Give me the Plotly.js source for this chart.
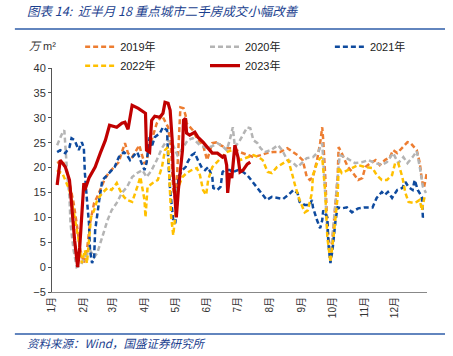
<!DOCTYPE html>
<html><head><meta charset="utf-8">
<script src="https://cdn.plot.ly/plotly-3.0.1.min.js"></script>
<style>html,body{margin:0;padding:0;background:#fff}#chart{width:453px;height:356px}</style>
</head><body><div id="chart"></div>
<script>
// Day-of-year and values (万m²)
const days2019 = [5,10,15,18,21,24,27,31,34,37,41,44,47,51,55,60,65,68,71,74,78,81,85,87,90,92,94,102,107,113,116,118,120,122,125,128,130,131,137,141,147,151,156,161,164,170,176,183,190,196,203,209,215,222,229,232,239,244,248,251,254,258,261,263,264,266,268,271,274,278,279,282,288,293,298,302,305,310,315,319,324,329,332,336,342,346,349,352,355,358,360,362,365];
const vals2019 = [20.9,21.5,18.9,16.1,12.9,8.8,4.0,0.8,3.4,8.8,12.9,14.1,15.5,17.5,18.9,19.9,21.1,23.1,24.9,22.9,22.1,23.1,24.5,22.9,20.9,21.1,23.5,28.9,30.5,28.1,23.5,15.5,13.5,19.5,32.1,31.9,30.5,28.9,27.5,25.9,24.5,21.5,24.9,25.1,24.5,23.9,23.9,23.1,22.5,22.1,22.5,22.9,23.1,23.1,23.9,23.5,22.5,21.5,18.1,17.5,18.1,21.5,24.9,28.1,25.5,18.1,8.0,2.0,8.0,18.1,24.1,22.9,20.1,18.9,17.5,17.9,20.1,20.9,21.5,20.5,21.5,22.1,23.5,22.9,24.1,25.1,24.9,24.1,23.5,20.9,17.5,15.9,19.1];

const days2020 = [5,7,10,12,13,15,17,18,21,24,28,32,37,41,44,47,51,54,58,63,68,73,78,83,88,92,95,97,102,107,112,117,122,128,132,137,144,151,156,161,166,170,173,176,178,183,190,193,196,200,203,207,213,220,224,229,234,239,243,248,254,259,263,266,268,271,274,278,280,285,290,295,302,308,315,321,326,332,337,342,346,351,355,358,361,364];
const vals2020 = [24.5,25.5,26.9,27.5,23.5,18.1,14.1,8.8,3.4,0.0,0.4,2.0,3.4,2.0,2.8,4.8,7.4,9.4,11.4,12.9,14.9,16.1,18.1,18.9,19.5,18.1,18.9,19.5,21.5,23.9,25.5,24.9,22.5,24.1,25.5,25.9,24.5,23.9,24.3,24.9,24.3,23.5,25.5,28.1,24.1,25.5,28.1,27.9,25.5,24.9,23.9,23.1,23.5,24.5,23.5,21.5,21.1,20.1,20.9,21.9,22.1,23.1,24.9,15.5,7.4,1.4,8.8,18.9,22.5,22.1,21.5,20.9,21.1,21.5,20.9,20.5,21.1,22.9,20.9,22.1,20.9,22.1,23.3,20.1,16.1,14.9];

const days2021 = [5,8,13,17,19,22,26,29,31,32,34,36,37,39,41,42,46,49,52,56,61,65,70,73,76,80,83,86,90,92,95,97,100,105,108,112,113,115,118,120,122,123,127,130,132,136,139,142,146,149,152,156,157,161,164,166,168,173,176,181,186,190,196,203,209,214,219,225,230,235,239,241,246,251,253,254,258,261,263,264,268,269,271,273,276,278,282,287,292,298,305,312,316,321,324,327,331,336,341,344,347,351,353,356,360,361,362];
const vals2021 = [23.1,23.5,22.9,24.1,25.9,25.5,23.5,25.1,23.9,18.9,13.5,8.8,3.4,0.8,2.0,7.4,13.5,17.5,18.1,18.9,20.1,22.1,23.1,22.5,21.5,22.5,23.1,21.5,19.5,20.9,26.1,24.1,26.1,26.9,28.1,27.5,22.1,15.5,9.4,8.8,13.5,18.1,19.5,20.1,21.1,22.5,22.9,21.5,19.9,19.5,20.1,18.1,15.9,15.5,16.1,19.1,19.5,19.5,19.1,19.5,19.1,18.5,16.9,14.9,13.5,14.1,13.9,13.7,14.5,15.5,14.9,13.1,12.5,12.5,13.5,12.0,9.4,7.8,9.4,11.4,10.0,4.8,0.8,3.4,9.4,12.0,11.8,12.0,11.0,11.8,12.0,12.0,13.9,15.1,14.5,15.1,13.9,15.5,15.9,17.1,16.1,15.5,17.5,15.5,14.1,10.0,10.4];

const days2022 = [5,7,10,13,17,19,22,26,29,32,34,36,38,41,44,49,54,58,63,66,70,73,78,83,86,90,91,93,98,103,107,110,113,114,116,118,120,123,127,131,136,141,144,147,150,152,156,161,166,170,175,179,183,190,196,201,205,210,214,219,225,230,234,237,241,246,249,253,254,258,261,263,266,268,271,274,278,279,282,288,293,298,305,312,316,321,326,331,334,337,341,344,347,352,355,358,360,363];
const vals2022 = [19.5,19.1,18.9,17.5,15.5,13.5,10.0,5.4,0.8,3.4,0.8,4.8,10.0,11.4,13.5,14.9,15.9,15.5,16.9,15.5,14.1,13.5,13.1,16.1,18.1,13.5,10.0,16.1,16.9,17.5,20.1,23.5,24.1,18.9,10.0,6.4,10.0,16.1,18.1,18.9,19.5,19.9,18.5,15.5,14.5,17.5,20.1,21.1,22.1,23.1,23.5,22.9,21.5,22.1,22.5,22.1,21.5,19.1,18.9,20.1,20.9,21.5,18.5,16.1,13.5,11.0,11.4,14.9,18.5,20.9,21.9,22.1,14.9,6.0,1.0,6.0,14.1,20.1,18.9,19.5,19.9,20.5,20.1,19.9,18.5,17.5,17.5,18.5,20.9,20.9,18.1,14.9,13.1,12.9,13.1,13.5,11.4,14.5];

const days2023 = [5,8,13,17,19,22,25,27,31,32,36,39,42,47,52,56,63,68,71,74,78,84,89,91,92,95,97,100,105,108,110,113,115,117,118,121,123,127,128,130,131,134,139,142,147,151,156,161,166,168,170,171,173,175,176,178,181,183,186,190,193];
const vals2023 = [16.5,21.5,20.1,17.5,12.9,5.4,0.0,4.0,16.9,15.5,17.9,19.1,20.1,22.9,25.5,28.5,28.1,28.9,29.1,27.7,32.5,31.9,31.1,30.9,23.5,23.1,29.5,30.3,30.1,30.9,33.1,32.9,31.5,25.5,18.9,10.0,15.5,23.5,29.5,29.9,26.9,26.5,27.1,26.1,25.1,24.1,22.9,22.9,22.1,22.5,20.5,14.9,18.9,17.9,19.9,24.5,22.1,19.1,19.5,20.7,21.1];

const seriesNames = ['2019年','2020年','2021年','2022年','2023年'];
const monthTicks = [0,31,59,90,120,151,181,212,243,273,304,334];
const monthLabels = ['1月','2月','3月','4月','5月','6月','7月','8月','9月','10月','11月','12月'];
const yTicks = [-5,0,5,10,15,20,25,30,35,40];

const dashStyle = '5px,3px';
const traces = [
  {x: days2019, y: vals2019, name: seriesNames[0], color: '#ED7D31', dash: dashStyle, w: 2.5, lg: 'legend'},
  {x: days2020, y: vals2020, name: seriesNames[1], color: '#B4B4B4', dash: dashStyle, w: 2.5, lg: 'legend2'},
  {x: days2021, y: vals2021, name: seriesNames[2], color: '#0E4A9E', dash: dashStyle, w: 2.5, lg: 'legend3'},
  {x: days2022, y: vals2022, name: seriesNames[3], color: '#FFC000', dash: dashStyle, w: 2.5, lg: 'legend'},
  {x: days2023, y: vals2023, name: seriesNames[4], color: '#C00000', dash: 'solid', w: 3.2, lg: 'legend2'}
].map(s => ({
  type: 'scatter', mode: 'lines', x: s.x, y: s.y, name: s.name, legend: s.lg,
  line: {color: s.color, width: s.w, dash: s.dash, shape: 'linear'}
}));

const legendBase = (xp) => ({
  orientation: 'v', x: xp, xanchor: 'left', y: 1.16, yanchor: 'top',
  traceorder: 'normal', bgcolor: 'rgba(0,0,0,0)', itemwidth: 30, tracegroupgap: 0,
  font: {size: 11, color: '#222', family: 'Liberation Sans, Noto Sans CJK SC, sans-serif'}
});

const titleColor = '#1B3F8F';
const layout = {
  width: 453, height: 356,
  margin: {l: 52, r: 26, t: 68, b: 64},
  paper_bgcolor: '#fff', plot_bgcolor: '#fff',
  font: {family: 'Liberation Sans, Arial, sans-serif', size: 11, color: '#333'},
  showlegend: true,
  legend: legendBase(0.075),
  legend2: legendBase(0.408),
  legend3: legendBase(0.741),
  xaxis: {
    range: [0, 365], tickmode: 'array', tickvals: monthTicks, ticktext: monthLabels,
    tickangle: -90, showgrid: false, zeroline: false, showline: true, linecolor: '#888', linewidth: 1,
    ticks: '', tickfont: {size: 10, color: '#333', family: 'Liberation Sans, Noto Sans CJK SC, sans-serif'}
  },
  yaxis: {
    range: [-5, 40], tickmode: 'array', tickvals: yTicks, showgrid: false, zeroline: false,
    showline: true, linecolor: '#555', linewidth: 1, ticks: 'outside', ticklen: 3, tickcolor: '#555',
    tickfont: {size: 11, color: '#333'}
  },
  shapes: [
    {type: 'line', xref: 'paper', yref: 'paper', x0: -0.099, x1: 1.048, y0: 1.174, y1: 1.174, line: {color: '#2E5DA8', width: 1.5}},
    {type: 'line', xref: 'paper', yref: 'paper', x0: -0.099, x1: 1.048, y0: -0.1875, y1: -0.1875, line: {color: '#2E5DA8', width: 1.5}}
  ],
  annotations: [
    {xref: 'paper', yref: 'paper', x: -0.072, y: 1.256, xanchor: 'left', yanchor: 'middle', showarrow: false,
     text: '<i>图表 14:  近半月 18 重点城市二手房成交小幅改善</i>',
     font: {family: 'Noto Sans CJK SC, sans-serif', size: 12.5, color: titleColor}},
    {xref: 'paper', yref: 'paper', x: 0.016, y: 1.10, xanchor: 'right', yanchor: 'middle', showarrow: false,
     text: '<i>万</i> m²', font: {family: 'Liberation Sans, Noto Sans CJK SC, sans-serif', size: 11, color: '#333'}},
    {xref: 'paper', yref: 'paper', x: -0.072, y: -0.228, xanchor: 'left', yanchor: 'middle', showarrow: false,
     text: '<i>资料来源：Wind，国盛证券研究所</i>',
     font: {family: 'Noto Sans CJK SC, sans-serif', size: 11.5, color: titleColor}}
  ]
};

Plotly.newPlot('chart', traces, layout, {displayModeBar: false, staticPlot: true});
</script></body></html>
